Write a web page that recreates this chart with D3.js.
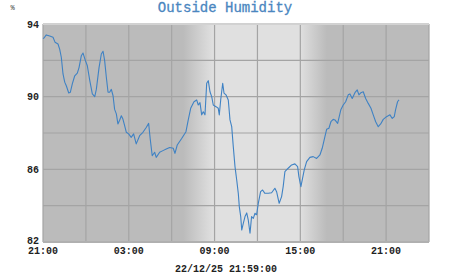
<!DOCTYPE html>
<html>
<head>
<meta charset="utf-8">
<script src="https://cdn.jsdelivr.net/npm/d3@7"></script>
<style>
  html, body { margin: 0; padding: 0; background: #ffffff; }
  svg { display: block; }
</style>
</head>
<body>
<div id="chart"></div>
<script>
// ---- Data (hours after 21:00 on 21/12/25, relative humidity %) ----
const hoursSinceStart = [0.00,0.07,0.23,0.47,0.70,0.84,1.05,1.17,1.28,1.40,1.52,1.63,1.80,1.91,2.05,2.22,2.40,2.52,2.68,2.80,2.96,3.10,3.27,3.45,3.62,3.73,3.92,4.08,4.20,4.31,4.43,4.55,4.66,4.78,4.90,5.01,5.13,5.24,5.36,5.48,5.59,5.71,5.83,5.99,6.17,6.34,6.52,6.76,6.99,7.22,7.39,7.50,7.64,7.81,7.92,8.16,8.39,8.62,8.86,9.11,9.23,9.39,9.70,10.00,10.16,10.33,10.56,10.75,10.86,10.98,11.10,11.21,11.33,11.45,11.56,11.68,11.80,11.91,12.10,12.26,12.33,12.43,12.57,12.66,12.80,12.96,13.08,13.20,13.31,13.43,13.55,13.66,13.73,13.83,13.90,14.01,14.13,14.25,14.36,14.48,14.59,14.71,14.83,14.94,15.06,15.22,15.36,15.52,15.76,15.99,16.22,16.34,16.52,16.69,16.80,16.92,17.15,17.39,17.62,17.81,17.90,18.04,18.13,18.27,18.44,18.67,18.90,19.14,19.37,19.53,19.72,19.84,20.00,20.14,20.30,20.42,20.61,20.84,21.00,21.17,21.35,21.47,21.63,21.82,21.98,22.10,22.24,22.40,22.57,22.75,22.94,23.10,23.27,23.45,23.62,23.80,24.03,24.27,24.43,24.57,24.66,24.80,24.90];
const humidity = [93.2,93.23,93.4,93.34,93.27,93.0,92.9,92.6,92.17,91.25,90.8,90.6,90.2,90.24,90.7,91.15,91.3,91.6,92.25,92.4,92.0,91.7,90.9,90.15,90.0,90.4,91.6,92.35,92.5,92.0,91.07,90.24,90.24,90.4,90.05,89.3,89.05,88.5,88.7,88.95,88.77,88.4,88.04,87.95,87.76,87.95,87.4,87.85,88.04,88.3,88.53,87.67,86.75,86.94,86.66,86.94,87.03,87.12,87.2,87.16,86.88,87.34,87.7,88.07,88.72,89.36,89.72,89.82,89.54,89.67,89.0,89.17,89.0,90.74,90.88,90.27,90.0,89.54,89.45,89.36,89.0,89.82,90.74,90.2,90.1,89.82,88.72,88.35,87.25,86.15,85.41,84.68,83.95,83.4,82.66,83.03,83.4,83.6,83.2,82.48,83.4,83.3,83.58,83.5,84.13,84.77,84.86,84.68,84.68,84.71,84.96,84.77,84.13,84.5,85.05,85.87,86.06,86.24,86.3,86.15,85.6,85.05,85.41,85.96,86.42,86.66,86.7,86.6,86.79,87.16,87.8,88.2,88.26,88.62,88.75,88.72,88.53,89.3,89.54,89.72,90.1,90.15,89.9,90.22,90.37,90.1,90.22,90.27,89.9,89.63,89.36,89.0,88.62,88.35,88.5,88.75,88.9,89.0,88.8,88.9,89.27,89.72,89.82];

const yTicksMajor = [82, 86, 90, 94];
const yGrid = [82, 84, 86, 88, 90, 92, 94];
const xTickLabels = ["21:00", "03:00", "09:00", "15:00", "21:00"];
const xTickHours = [0, 6, 12, 18, 24];
const xGridHours = [0, 3, 6, 9, 12, 15, 18, 21, 24, 27];
// daylight: transitions (hours after start)
const dawn = [9.8, 11.9];
const dusk = [17.95, 19.85];
const titleText = "Outside Humidity";
const unitText = "%";
const footerText = "22/12/25 21:59:00";

// ---- Layout ----
const W = 451, H = 275;
const mLeft = 43, mRight = 429, mTop = 24, mBottom = 242;
const mono = "'Liberation Mono', 'Courier New', monospace";

const svg = d3.select("#chart").append("svg")
  .attr("width", W).attr("height", H);

const x = d3.scaleLinear().domain([0, 27]).range([mLeft, mRight]);
const y = d3.scaleLinear().domain([82, 94]).range([mBottom, mTop]);

const nightCol = "#bbbbbb", dayCol = "#e0e0e0";
const defs = svg.append("defs");
const grad = defs.append("linearGradient").attr("id", "daylight")
  .attr("gradientUnits", "userSpaceOnUse")
  .attr("x1", mLeft).attr("x2", mRight).attr("y1", 0).attr("y2", 0);
const frac = h => (x(h) - mLeft) / (mRight - mLeft);
[[0, nightCol], [frac(dawn[0]), nightCol], [frac(dawn[1]), dayCol],
 [frac(dusk[0]), dayCol], [frac(dusk[1]), nightCol], [1, nightCol]]
  .forEach(([o, c]) => grad.append("stop").attr("offset", o).attr("stop-color", c));

svg.append("rect")
  .attr("x", mLeft).attr("y", mTop)
  .attr("width", mRight - mLeft).attr("height", mBottom - mTop)
  .attr("fill", "url(#daylight)");

// grid
svg.append("g").selectAll("line").data(xGridHours).join("line")
  .attr("x1", d => x(d)).attr("x2", d => x(d))
  .attr("y1", mTop).attr("y2", mBottom)
  .attr("stroke", "#a4a4a4").attr("stroke-width", 1.2);
svg.append("g").selectAll("line").data(yGrid).join("line")
  .attr("x1", mLeft).attr("x2", mRight)
  .attr("y1", d => y(d)).attr("y2", d => y(d))
  .attr("stroke", "#a4a4a4").attr("stroke-width", 1.2);

// top border lighter
svg.append("line").attr("x1", mLeft).attr("x2", mRight)
  .attr("y1", mTop + 0.5).attr("y2", mTop + 0.5)
  .attr("stroke", "#d2d2d2").attr("stroke-width", 1);
// bottom axis
svg.append("line").attr("x1", mLeft).attr("x2", mRight)
  .attr("y1", mBottom).attr("y2", mBottom)
  .attr("stroke", "#b0b0b0").attr("stroke-width", 2);

// line
const pts = hoursSinceStart.map((h, i) => [h, humidity[i]]);
svg.append("path")
  .datum(pts)
  .attr("fill", "none")
  .attr("stroke", "#3f82c4")
  .attr("stroke-width", 1.1)
  .attr("stroke-linejoin", "round")
  .attr("d", d3.line().x(d => x(d[0])).y(d => y(d[1])));

// y labels
svg.append("g").selectAll("text").data(yTicksMajor).join("text")
  .attr("x", 39).attr("y", d => y(d) + (d === 82 ? 1.5 : 3.5))
  .attr("text-anchor", "end")
  .attr("font-family", mono).attr("font-size", 10).attr("font-weight", "bold")
  .attr("fill", "#222").text(d => d);

// x labels
svg.append("g").selectAll("text").data(xTickHours).join("text")
  .attr("x", d => x(d)).attr("y", 254)
  .attr("text-anchor", "middle")
  .attr("font-family", mono).attr("font-size", 10).attr("font-weight", "bold")
  .attr("fill", "#222").text((d, i) => xTickLabels[i]);

// title
svg.append("text").attr("x", 225).attr("y", 12)
  .attr("text-anchor", "middle")
  .attr("font-family", mono).attr("font-size", 14)
  .attr("stroke", "#4a86bf").attr("stroke-width", 0.3)
  .attr("fill", "#4a86bf").text(titleText);

// unit
svg.append("text").attr("x", 10.5).attr("y", 9.5)
  .attr("font-family", mono).attr("font-size", 7)
  .attr("fill", "#333").text(unitText);

// footer
svg.append("text").attr("x", 226).attr("y", 272)
  .attr("text-anchor", "middle")
  .attr("font-family", mono).attr("font-size", 10).attr("font-weight", "bold")
  .attr("fill", "#222").text(footerText);
</script>
</body>
</html>
